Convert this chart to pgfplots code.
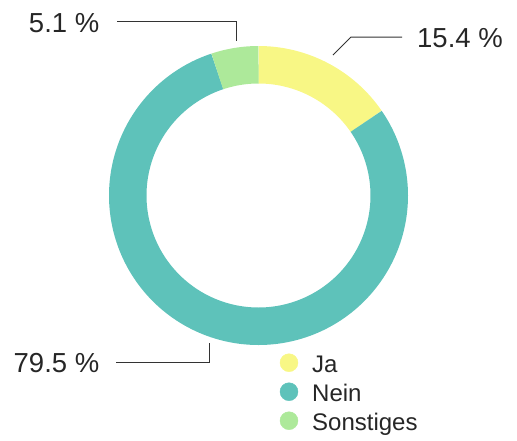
\documentclass[border=0pt]{standalone}
\usepackage{pgfplots}
\usepackage{pgfplotstable}
\pgfplotsset{compat=1.18}
\usepackage{fontspec}
\setmainfont{Liberation Sans}
\definecolor{cJa}{HTML}{F8F785}
\definecolor{cNein}{HTML}{5EC2BA}
\definecolor{cSon}{HTML}{ADE99A}
\definecolor{cLine}{HTML}{333333}
\definecolor{cText}{HTML}{262626}
\pgfplotstableread{
name value
Ja 15.4
Nein 79.5
Sonstiges 5.1
}\piedata
\pgfplotstablegetelem{0}{value}\of\piedata \let\vA\pgfplotsretval
\pgfplotstablegetelem{1}{value}\of\piedata \let\vB\pgfplotsretval
\pgfplotstablegetelem{2}{value}\of\piedata \let\vC\pgfplotsretval
\pgfmathsetmacro\aZ{90}
\pgfmathsetmacro\aA{\aZ-3.6*\vA}
\pgfmathsetmacro\aB{\aA-3.6*\vB}
\pgfmathsetmacro\aC{\aB-3.6*\vC}
\def\cx{258.5}
\def\cy{195.5}
\def\rm{130.75}
\begin{document}
\begin{tikzpicture}
\begin{axis}[
  width=517pt, height=440pt, scale only axis,
  xmin=0, xmax=517, ymin=0, ymax=440, y dir=reverse,
  hide axis, clip=false,
]
\path (axis cs:0,0) rectangle (axis cs:517,440);
% donut slices
\addplot[draw=cJa, line width=37.5pt, line cap=butt, domain=\aA:\aZ, samples=90, variable=\t]
  ({\cx+\rm*cos(\t)}, {\cy-\rm*sin(\t)});
\addplot[draw=cNein, line width=37.5pt, line cap=butt, domain=\aB:\aA, samples=300, variable=\t]
  ({\cx+\rm*cos(\t)}, {\cy-\rm*sin(\t)});
\addplot[draw=cSon, line width=37.5pt, line cap=butt, domain=\aC:\aB, samples=40, variable=\t]
  ({\cx+\rm*cos(\t)}, {\cy-\rm*sin(\t)});
% leader lines
\addplot[cLine, line width=1pt, mark=none] coordinates {(117,21) (236,21) (236,40.7)};
\addplot[cLine, line width=1pt, mark=none] coordinates {(333,55) (351,37) (402,37)};
\addplot[cLine, line width=1pt, mark=none] coordinates {(116,362.3) (209,362.3) (209,342.7)};
% labels
\node[anchor=base east, inner sep=0pt, font=\fontsize{27.5}{33}\selectfont, text=cText] at (axis cs:99.5,32) {5.1 \%};
\node[anchor=base west, inner sep=0pt, font=\fontsize{27.5}{33}\selectfont, text=cText] at (axis cs:417,47) {15.4 \%};
\node[anchor=base east, inner sep=0pt, font=\fontsize{27.5}{33}\selectfont, text=cText] at (axis cs:99.5,372) {79.5 \%};
% legend
\addplot[only marks, mark=*, mark size=9pt, color=cJa] coordinates {(289,362.7)};
\addplot[only marks, mark=*, mark size=9pt, color=cNein] coordinates {(289,391.7)};
\addplot[only marks, mark=*, mark size=9pt, color=cSon] coordinates {(289,420.7)};
\node[anchor=base west, inner sep=0pt, font=\fontsize{24}{29}\selectfont, text=cText] at (axis cs:312,372.5) {Ja};
\node[anchor=base west, inner sep=0pt, font=\fontsize{24}{29}\selectfont, text=cText] at (axis cs:312,401.7) {Nein};
\node[anchor=base west, inner sep=0pt, font=\fontsize{24}{29}\selectfont, text=cText] at (axis cs:312,430.5) {Sonstiges};
\end{axis}
\end{tikzpicture}
\end{document}
